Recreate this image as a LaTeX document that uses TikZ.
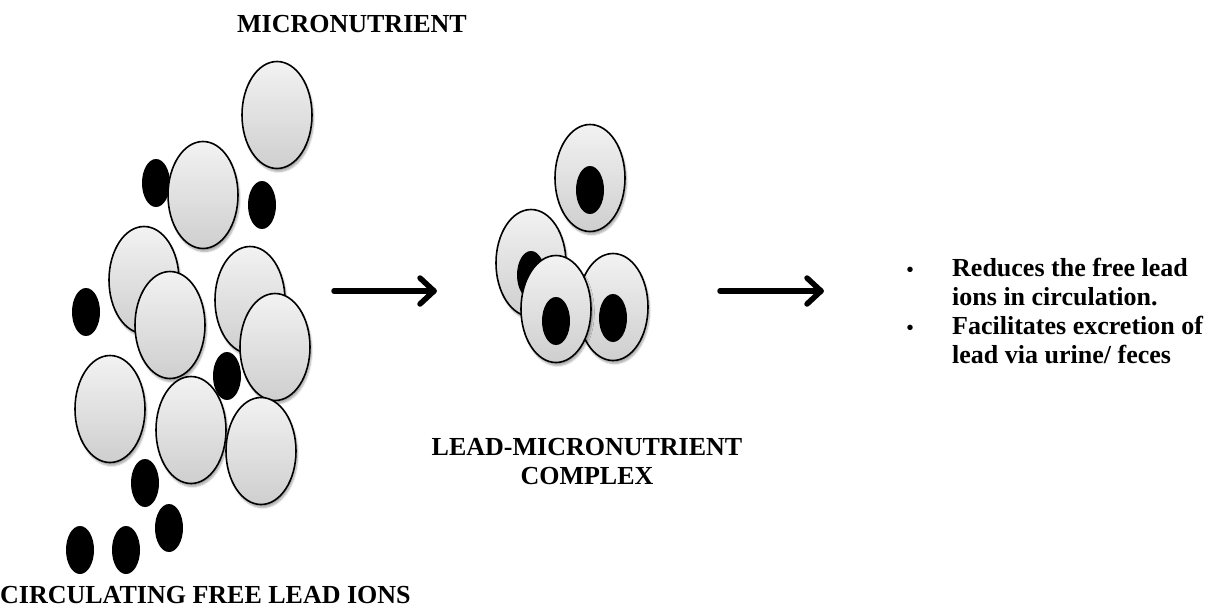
\documentclass[tikz,border=0pt]{standalone}
\usepackage{fontspec}
\setmainfont{Liberation Serif}
\usetikzlibrary{shapes.geometric,shadows.blur,calc}
\tikzset{
  nutr/.style={ellipse, draw=black, line width=1.6pt, minimum width=70pt, minimum height=107pt,
    inner sep=0pt, top color=gray!10, bottom color=gray!38,
    blur shadow={shadow xshift=1.5pt, shadow yshift=-3pt, shadow blur steps=6, shadow opacity=35}},
  ion/.style={ellipse, fill=black, minimum width=28pt, minimum height=48pt, inner sep=0pt},
  lbl/.style={font=\fontsize{26}{29}\selectfont\bfseries, inner sep=0pt, anchor=base},
  lblw/.style={lbl, anchor=base west},
  bul/.style={font=\fontsize{20}{29}\selectfont\bfseries, inner sep=0pt, anchor=base},
  arr/.style={line width=5.5pt, line cap=round, line join=round}
}
\begin{document}
\begin{tikzpicture}[x=1pt,y=-1pt]
\useasboundingbox (0,0) rectangle (1217,608);
% left cluster
\node[ion] (i1) at (156,183) {};
\node[nutr] (e1) at (277,115) {};
\node[nutr] (e2) at (203,195) {};
\node[ion] (i2) at (262,205) {};
\node[nutr] (e3) at (144,280) {};
\node[nutr] (e4) at (170,325) {};
\node[ion] (i3) at (86,312) {};
\node[nutr] (e5) at (250,300) {};
\node[ion] (i4) at (227,376) {};
\node[nutr] (e6) at (275,347) {};
\node[nutr] (e7) at (110,409) {};
\node[nutr] (e8) at (191,430) {};
\node[nutr] (e9) at (261,451) {};
\node[ion] (i5) at (145,483) {};
\node[ion] (i6) at (169,528) {};
\node[ion] (i7) at (80,550) {};
\node[ion] (i8) at (126,550) {};
% middle cluster
\node[nutr] (c1) at (590,178) {};
\node[ion] (d1) at (590,190) {};
\node[nutr] (c2) at (531,263) {};
\node[ion] (d2) at (531,275) {};
\node[nutr] (c3) at (613,307) {};
\node[ion] (d3) at (613,318) {};
\node[nutr] (c4) at (556,309) {};
\node[ion] (d4) at (556,321) {};
% arrows
\coordinate (a1s) at (334,291);
\coordinate (a1e) at (434,291);
\coordinate (a2s) at (720,291);
\coordinate (a2e) at (821,291);
\draw[arr] (a1s) -- (a1e);
\draw[arr] ($(a1e)+(-14,-13)$) -- (a1e) -- ($(a1e)+(-14,13)$);
\draw[arr] (a2s) -- (a2e);
\draw[arr] ($(a2e)+(-14,-13)$) -- (a2e) -- ($(a2e)+(-14,13)$);
% labels
\node[lbl] (tmicro) at (352,32) {MICRONUTRIENT};
\node[lbl] (tlead) at (587,455) {LEAD-MICRONUTRIENT};
\node[lbl] (tcomp) at (587,484) {COMPLEX};
\node[lblw] (tcirc) at (0,603) {CIRCULATING FREE LEAD IONS};
\node[bul] (b1) at (910,276) {•};
\node[lblw] (r1) at (952,276) {Reduces the free lead};
\node[lblw] (r2) at (952,305) {ions in circulation.};
\node[bul] (b2) at (910,334) {•};
\node[lblw] (r3) at (952,334) {Facilitates excretion of};
\node[lblw] (r4) at (952,363) {lead via urine/ feces};
\end{tikzpicture}
\end{document}
